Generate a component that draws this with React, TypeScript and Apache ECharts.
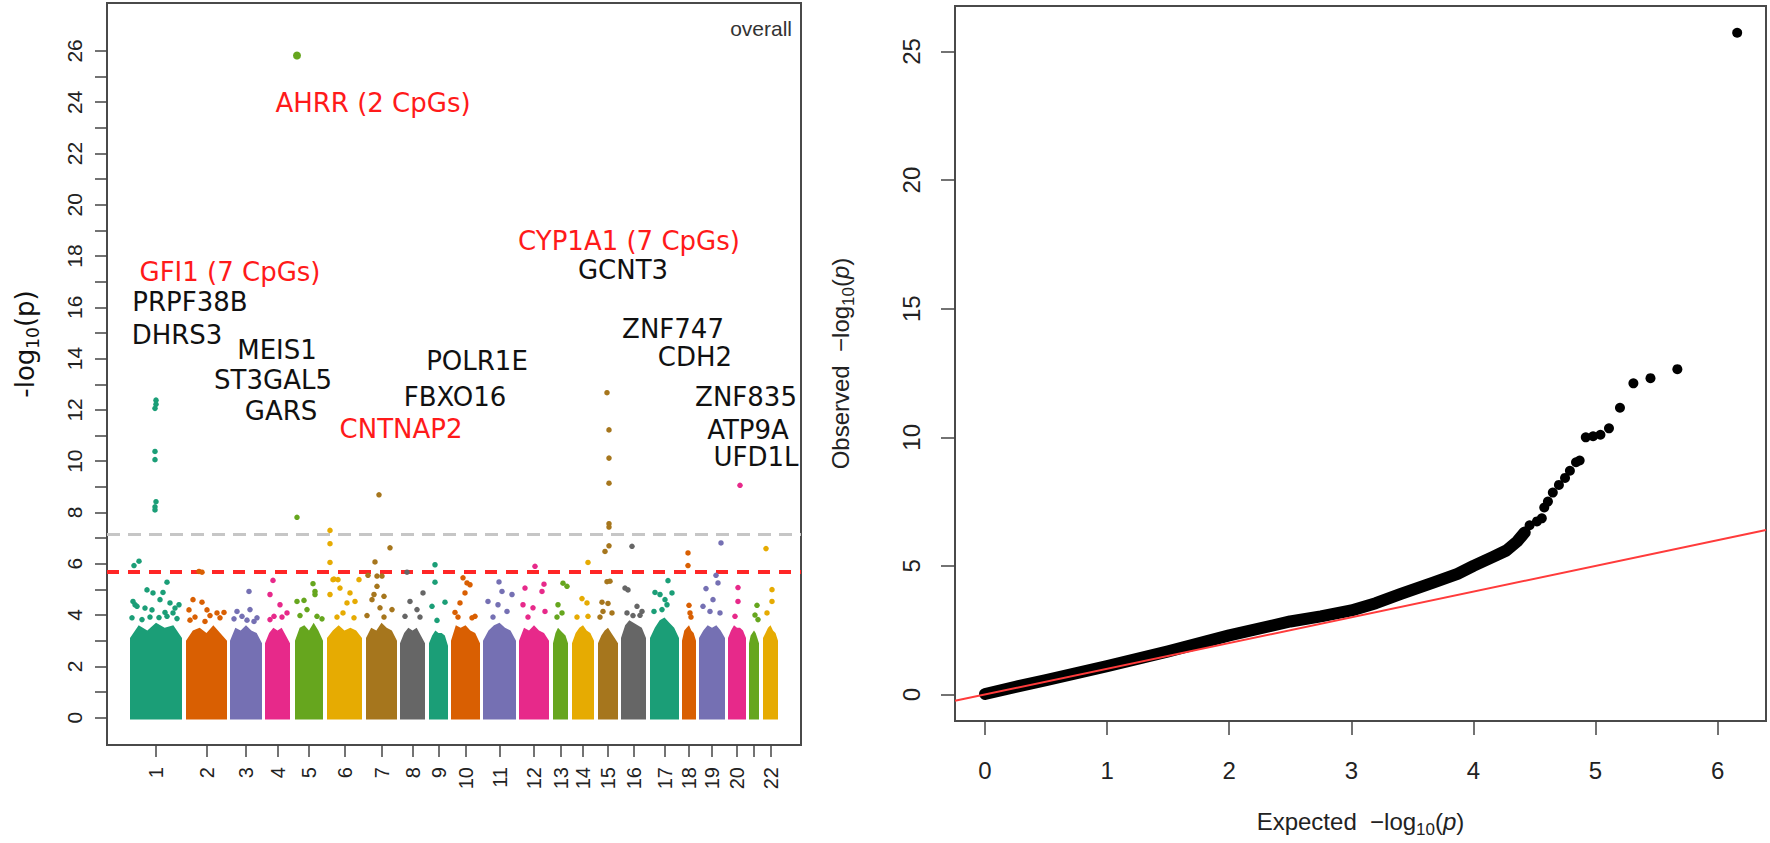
import React, { useEffect, useRef } from "react";
import * as echarts from "echarts";

// ---------------- Manhattan plot data ----------------
const chromosomes = ["1","2","3","4","5","6","7","8","9","10","11","12","13","14","15","16","17","18","19","20","21","22"];
// cumulative probe index (plot units) where each chromosome block starts / ends
const chrStart = [23, 79, 123, 158, 188, 220, 259, 293, 322, 344, 376, 412, 446, 465, 491, 514, 543, 575, 592, 621, 642, 656];
const chrEnd = [75, 120, 155, 183, 216, 255, 290, 318, 341, 373, 409, 442, 461, 487, 511, 539, 572, 589, 618, 639, 652, 671];
// upper edge (-log10 p) of the dense body of points, read across each block
const bodyProfile = [
  [3.1, 3.6, 3.4, 3.7, 3.5, 3.6, 3.1],
  [3.0, 3.4, 3.5, 3.3, 3.6, 3.3, 3.0],
  [3.0, 3.5, 3.4, 3.6, 3.4, 3.3, 2.9],
  [2.9, 3.3, 3.5, 3.4, 3.5, 3.2, 2.9],
  [3.0, 3.5, 3.6, 3.4, 3.7, 3.4, 3.0],
  [3.1, 3.4, 3.6, 3.4, 3.5, 3.4, 3.1],
  [3.1, 3.5, 3.4, 3.7, 3.5, 3.4, 3.0],
  [2.9, 3.3, 3.5, 3.4, 3.5, 3.2, 2.9],
  [2.9, 3.2, 3.4, 3.3, 3.3, 3.2, 2.8],
  [3.0, 3.6, 3.5, 3.6, 3.4, 3.3, 2.9],
  [3.0, 3.4, 3.6, 3.7, 3.5, 3.4, 3.0],
  [3.0, 3.5, 3.4, 3.6, 3.4, 3.3, 3.0],
  [2.9, 3.3, 3.5, 3.4, 3.3, 3.2, 2.9],
  [2.9, 3.3, 3.5, 3.6, 3.4, 3.3, 3.0],
  [2.9, 3.2, 3.4, 3.5, 3.3, 3.1, 2.9],
  [3.1, 3.6, 3.8, 3.7, 3.6, 3.5, 3.1],
  [3.1, 3.5, 3.8, 3.9, 3.7, 3.5, 3.1],
  [3.0, 3.4, 3.5, 3.6, 3.4, 3.3, 3.0],
  [3.1, 3.4, 3.6, 3.5, 3.6, 3.4, 3.1],
  [3.1, 3.4, 3.6, 3.5, 3.5, 3.4, 3.1],
  [2.9, 3.2, 3.3, 3.4, 3.3, 3.1, 2.9],
  [3.1, 3.3, 3.5, 3.6, 3.4, 3.3, 3.0],
];
const palette = ["#1B9E77", "#D95F02", "#7570B3", "#E7298A", "#66A61E", "#E6AB02", "#A6761D", "#666666"];
// individual CpGs above the dense body: [chromosome, position, -log10 p]
const sparsePoints: number[][] = [
  [1,49,12.38],[1,49,12.22],[1,48,12.06],[1,48,10.38],[1,48,10.06],[1,49,8.42],[1,48,8.22],[1,48,8.1],
  [1,27,5.93],[1,32,6.1],[1,60,5.28],[1,40,4.98],[1,46,4.86],[1,56,4.88],[1,26,4.53],[1,28,4.4],[1,53,4.6],
  [1,63,4.47],[1,38,4.27],[1,45,4.2],[1,68,4.27],[1,30,4.34],[1,66,4.08],[1,70,3.86],[1,25,3.89],[1,43,3.92],
  [1,60,3.95],[1,35,3.82],[1,52,3.9],[1,72,4.4],[1,58,4.1],
  [2,92,5.7],[2,95,5.67],[2,86,4.6],[2,95,4.5],[2,82,4.2],[2,100,4.2],[2,110,4.08],[2,117,4.1],[2,88,3.92],
  [2,103,3.98],[2,113,3.89],[2,83,3.8],[2,98,3.75],
  [3,142,4.92],[3,130,4.14],[3,143,4.21],[3,135,3.95],[3,150,3.89],[3,127,3.85],[3,140,3.8],[3,147,3.75],
  [4,166,5.35],[4,163,4.8],[4,173,4.4],[4,180,4.08],[4,167,3.95],[4,175,3.92],[4,163,3.82],
  [5,190,25.82],[5,190,7.81],[5,206,5.22],[5,208,4.92],[5,208,4.8],[5,190,4.53],[5,197,4.57],[5,200,4.21],
  [5,193,3.98],[5,210,3.95],[5,215,3.85],
  [6,223,7.3],[6,223,6.78],[6,223,6.05],[6,227,5.4],[6,231,5.38],[6,252,5.38],[6,226,5.38],[6,233,5.05],
  [6,243,4.86],[6,223,4.8],[6,240,4.47],[6,248,4.53],[6,236,4.08],[6,230,3.92],[6,247,3.89],
  [7,272,8.69],[7,283,6.62],[7,268,6.07],[7,261,5.55],[7,270,5.52],[7,275,5.52],[7,270,5.12],[7,267,4.8],
  [7,277,4.73],[7,265,4.6],[7,273,4.28],[7,285,4.21],[7,260,3.98],[7,277,3.92],
  [8,300,5.67],[8,316,4.86],[8,303,4.53],[8,310,4.21],[8,298,3.95],[8,313,3.92],
  [9,328,5.96],[9,328,5.28],[9,325,4.34],[9,338,4.5],[9,330,3.79],
  [10,356,5.45],[10,360,5.25],[10,363,5.18],[10,358,4.86],[10,353,4.47],[10,348,4.1],[10,368,3.95],[10,351,3.92],[10,365,3.89],
  [11,392,5.29],[11,395,4.92],[11,405,4.8],[11,381,4.53],[11,391,4.4],[11,400,4.14],[11,386,3.92],
  [12,428,5.9],[12,418,5.05],[12,437,5.2],[12,435,4.92],[12,416,4.4],[12,426,4.28],[12,438,4.14],[12,421,3.92],
  [13,456,5.24],[13,460,5.12],[13,451,4.4],[13,455,4.08],[13,450,3.92],
  [14,481,6.05],[14,475,4.64],[14,480,4.47],[14,470,3.92],[14,481,3.95],
  [15,500,12.67],[15,502,11.22],[15,502,10.12],[15,502,9.14],[15,502,7.56],[15,502,7.43],[15,502,6.7],[15,498,6.48],
  [15,500,5.3],[15,503,5.32],[15,495,4.5],[15,501,4.45],[15,496,4.14],[15,505,4.08],[15,493,3.92],
  [16,525,6.68],[16,518,5.05],[16,521,4.98],[16,530,4.34],[16,535,4.14],[16,520,4.08],[16,526,3.98],[16,533,3.99],
  [17,561,5.34],[17,548,4.88],[17,553,4.8],[17,565,4.86],[17,558,4.6],[17,560,4.4],[17,547,4.14],[17,555,4.21],
  [18,581,6.42],[18,581,5.93],[18,582,4.38],[18,583,4.08],[18,584,3.92],
  [19,614,6.81],[19,609,5.55],[19,611,5.25],[19,599,5.03],[19,606,4.6],[19,596,4.34],[19,603,4.14],[19,613,4.08],
  [20,633,9.06],[20,631,5.07],[20,631,4.53],[20,628,3.95],
  [21,650,4.38],[21,648,4.0],[21,651,3.82],
  [22,659,6.59],[22,665,4.99],[22,665,4.53],[22,660,4.08],
];
const manhattanYTicks = [0,1,2,3,4,5,6,7,8,9,10,11,12,13,14,15,16,17,18,19,20,21,22,23,24,25,26];
const manhattanYLabels = [0,2,4,6,8,10,12,14,16,18,20,22,24,26];
const unlabeledChromosomes = ["21"];
const significanceLine = 7.16;
const suggestiveLine = 5.68;

const geneNames = ["AHRR (2 CpGs)", "GFI1 (7 CpGs)", "PRPF38B", "DHRS3", "MEIS1", "ST3GAL5", "GARS", "POLR1E", "FBXO16",
  "CNTNAP2", "CYP1A1 (7 CpGs)", "GCNT3", "ZNF747", "CDH2", "ZNF835", "ATP9A", "UFD1L"];
const geneHighlighted = [true, true, false, false, false, false, false, false, false, true, true, false, false, false, false, false, false];

// ---------------- QQ plot data ----------------
const qqBand: number[][] = [
  [0.0, 0.02],[0.25, 0.3],[0.5, 0.56],[0.75, 0.83],[1.0, 1.1],[1.5, 1.68],[2.0, 2.3],[2.5, 2.84],[2.75, 3.04],
  [3.0, 3.27],[3.2, 3.55],[3.4, 3.9],[3.67, 4.35],[3.87, 4.69],[4.0, 5.0],[4.16, 5.35],[4.27, 5.6],[4.36, 5.96],[4.42, 6.3],
];
const qqTail: number[][] = [
  [4.46, 6.58],[4.52, 6.73],[4.56, 6.85],[4.58, 7.27],[4.61, 7.5],[4.65, 7.85],[4.70, 8.15],[4.75, 8.42],[4.79, 8.7],
  [4.84, 9.03],[4.87, 9.1],[4.92, 10.0],[4.98, 10.04],[5.04, 10.1],[5.11, 10.35],[5.20, 11.15],[5.31, 12.1],
  [5.45, 12.3],[5.67, 12.65],[6.16, 25.73],
];
const qqXTicks = [0, 1, 2, 3, 4, 5, 6];
const qqYTicks = [0, 5, 10, 15, 20, 25];

// ---------------- layout ----------------
const FONT = "Liberation Sans, Arial, sans-serif";
const GENE_FONT = "DejaVu Sans, sans-serif";
const LEFT_GRID = { left: 107, top: 3, width: 694, height: 742 };
const RIGHT_GRID = { left: 955, top: 6, width: 811, height: 722 };
const MH_X = [0, 694];
const MH_Y = [-1.07, 27.87];
const QQ_X = [-0.246, 6.396];
const QQ_Y = [-1.03, 26.77];
const geneLabelLayout = [
  [373, 103], [230, 272], [190, 302], [177, 335], [277, 350], [273, 380], [281, 411], [477, 361], [455, 397],
  [401, 429], [629, 241], [623, 270], [673, 329], [695, 357], [746, 397], [748, 430], [756, 457],
];

function buildOption() {
  const centers = chromosomes.map((_, i) => (chrStart[i] + chrEnd[i]) / 2);
  const labelCenters = centers.filter((_, i) => !unlabeledChromosomes.includes(chromosomes[i]));
  const chrOf = (v: number) => {
    const i = centers.findIndex((c) => Math.abs(c - v) < 0.01);
    return i >= 0 ? chromosomes[i] : "";
  };
  const tickStyle = { color: "#444", width: 1.5 };
  const hiddenLine = { show: false, onZero: false };

  const graphic: any[] = geneNames.map((g, i) => ({
    type: "text",
    x: geneLabelLayout[i][0],
    y: geneLabelLayout[i][1],
    z: 50,
    style: {
      text: g,
      fill: geneHighlighted[i] ? "#FF1A1A" : "#111111",
      font: `26px ${GENE_FONT}`,
      align: "center",
      verticalAlign: "middle",
    },
  }));
  graphic.push({
    type: "text",
    x: 792,
    y: 28,
    z: 50,
    style: { text: "overall", fill: "#333", font: `21px ${FONT}`, align: "right", verticalAlign: "middle" },
  });
  graphic.push({
    type: "text",
    x: 25,
    y: 344,
    rotation: Math.PI / 2,
    z: 50,
    style: {
      text: "{a|-log}{s|10}{a|(p)}",
      align: "center",
      verticalAlign: "middle",
      fill: "#111",
      rich: {
        a: { fontSize: 26, fontFamily: GENE_FONT, fill: "#111", verticalAlign: "middle" },
        s: { fontSize: 17, fontFamily: GENE_FONT, fill: "#111", verticalAlign: "bottom", padding: [16, 0, 0, 0] },
      },
    },
  });

  const richName = {
    a: { fontSize: 24, fontFamily: FONT, color: "#222", verticalAlign: "middle" },
    s: { fontSize: 17, fontFamily: FONT, color: "#222", verticalAlign: "bottom", padding: [16, 0, 0, 0] },
    i: { fontSize: 24, fontFamily: FONT, color: "#222", fontStyle: "italic", verticalAlign: "middle" },
  };

  return {
    animation: false,
    backgroundColor: "#ffffff",
    grid: [
      { ...LEFT_GRID, show: true, borderColor: "#4a4a4a", borderWidth: 2, backgroundColor: "transparent" },
      { ...RIGHT_GRID, show: true, borderColor: "#4a4a4a", borderWidth: 2, backgroundColor: "transparent" },
    ],
    xAxis: [
      {
        type: "value",
        gridIndex: 0,
        min: MH_X[0],
        max: MH_X[1],
        axisLine: hiddenLine,
        splitLine: { show: false },
        axisTick: { show: true, customValues: centers, length: 12, lineStyle: tickStyle },
        axisLabel: {
          customValues: labelCenters,
          formatter: (v: number) => chrOf(v),
          rotate: 90,
          margin: 22,
          fontSize: 20,
          fontFamily: FONT,
          color: "#222",
        },
      },
      {
        type: "value",
        gridIndex: 1,
        min: QQ_X[0],
        max: QQ_X[1],
        axisLine: hiddenLine,
        splitLine: { show: false },
        axisTick: { show: true, customValues: qqXTicks, length: 14, lineStyle: tickStyle },
        axisLabel: { customValues: qqXTicks, margin: 37, fontSize: 24, fontFamily: FONT, color: "#222" },
        name: "{a|Expected  \u2212log}{s|10}{a|(}{i|p}{a|)}",
        nameLocation: "middle",
        nameGap: 84,
        nameTextStyle: { fontSize: 24, fontFamily: FONT, color: "#222", rich: richName },
      },
    ],
    yAxis: [
      {
        type: "value",
        gridIndex: 0,
        min: MH_Y[0],
        max: MH_Y[1],
        axisLine: hiddenLine,
        splitLine: { show: false },
        axisTick: { show: true, customValues: manhattanYTicks, length: 12, lineStyle: tickStyle },
        axisLabel: { customValues: manhattanYLabels, rotate: 90, margin: 22, fontSize: 21, fontFamily: FONT, color: "#222" },
      },
      {
        type: "value",
        gridIndex: 1,
        min: QQ_Y[0],
        max: QQ_Y[1],
        axisLine: hiddenLine,
        splitLine: { show: false },
        axisTick: { show: true, customValues: qqYTicks, length: 14, lineStyle: tickStyle },
        axisLabel: { customValues: qqYTicks, rotate: 90, margin: 32, fontSize: 24, fontFamily: FONT, color: "#222" },
        name: "{a|Observed  \u2212log}{s|10}{a|(}{i|p}{a|)}",
        nameLocation: "middle",
        nameGap: 98,
        nameTextStyle: { fontSize: 24, fontFamily: FONT, color: "#222", rich: richName },
      },
    ],
    series: [
      {
        type: "custom",
        name: "body",
        xAxisIndex: 0,
        yAxisIndex: 0,
        z: 2,
        encode: { x: [0, 1], y: [2, 3, 4, 5, 6, 7, 8] },
        data: chromosomes.map((_, i) => [chrStart[i], chrEnd[i], ...bodyProfile[i], i]),
        renderItem: (params: any, api: any) => {
          const s = api.value(0);
          const e = api.value(1);
          const n = 7;
          const idx = api.value(2 + n);
          const pts: number[][] = [api.coord([s, -0.08])];
          for (let k = 0; k < n; k++) {
            pts.push(api.coord([s + ((e - s) * k) / (n - 1), api.value(2 + k)]));
          }
          pts.push(api.coord([e, -0.08]));
          return { type: "polygon", shape: { points: pts }, style: { fill: palette[idx % palette.length] } };
        },
        markLine: {
          silent: true,
          symbol: "none",
          label: { show: false },
          z: 1,
          data: [
            { yAxis: significanceLine, lineStyle: { color: "#C6C6C6", width: 3, type: [13, 8] } },
            { yAxis: suggestiveLine, lineStyle: { color: "#FF2626", width: 4, type: [12, 9] } },
          ],
        },
      },
      {
        type: "scatter",
        name: "CpGs",
        xAxisIndex: 0,
        yAxisIndex: 0,
        z: 3,
        symbolSize: (v: number[]) => (v[1] > 20 ? 8 : 5.5),
        data: sparsePoints.map((p) => [p[1], p[2], p[0]]),
        itemStyle: { color: (p: any) => palette[(p.data[2] - 1) % palette.length], opacity: 1 },
      },
      {
        type: "line",
        name: "qqBand",
        xAxisIndex: 1,
        yAxisIndex: 1,
        z: 3,
        symbol: "none",
        data: qqBand,
        lineStyle: { color: "#000", width: 12, cap: "round", join: "round" },
      },
      {
        type: "scatter",
        name: "qqTail",
        xAxisIndex: 1,
        yAxisIndex: 1,
        z: 3,
        symbolSize: 10,
        data: qqTail,
        itemStyle: { color: "#000", opacity: 1 },
      },
      {
        type: "line",
        name: "expected",
        xAxisIndex: 1,
        yAxisIndex: 1,
        z: 4,
        symbol: "none",
        clip: true,
        data: [[QQ_X[0], QQ_X[0]], [QQ_X[1], QQ_X[1]]],
        lineStyle: { color: "#FF3B3B", width: 2 },
      },
    ],
    graphic,
  };
}

export default function App() {
  const ref = useRef<HTMLDivElement>(null);
  useEffect(() => {
    document.body.style.margin = "0";
    document.body.style.overflow = "hidden";
    const chart = echarts.init(ref.current as HTMLDivElement, null, { renderer: "svg" });
    chart.setOption(buildOption() as any);
    return () => chart.dispose();
  }, []);
  return <div ref={ref} style={{ width: 1770, height: 843, background: "#fff" }} />;
}
